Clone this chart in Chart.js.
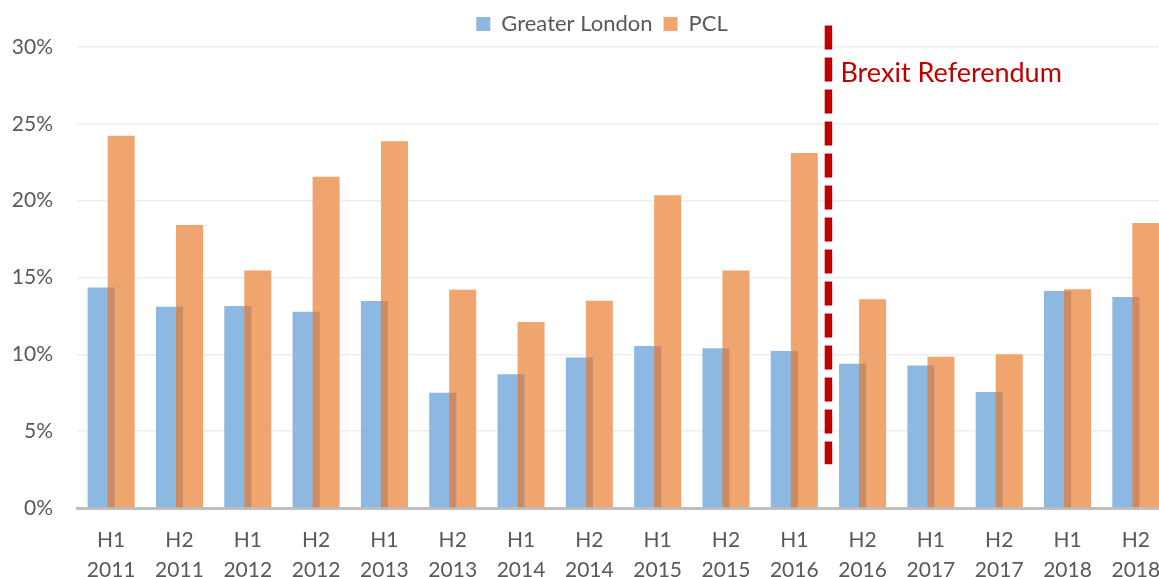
<!DOCTYPE html>
<html>
<head>
<meta charset="utf-8">
<script src="https://cdn.jsdelivr.net/npm/chart.js@4"></script>
<style>
  html, body { margin: 0; padding: 0; background: #fff; overflow: hidden; }
  #wrap { width: 1159px; height: 577px; overflow: hidden; }
</style>
</head>
<body>
<div id="wrap">
  <canvas id="priceChart" width="1204" height="577"></canvas>
</div>
<script>
// Half-year periods
const periods = [
  ["H1", "2011"], ["H2", "2011"], ["H1", "2012"], ["H2", "2012"],
  ["H1", "2013"], ["H2", "2013"], ["H1", "2014"], ["H2", "2014"],
  ["H1", "2015"], ["H2", "2015"], ["H1", "2016"], ["H2", "2016"],
  ["H1", "2017"], ["H2", "2017"], ["H1", "2018"], ["H2", "2018"]
];

// Values in %
const greaterLondon = [14.35, 13.1, 13.15, 12.77, 13.47, 7.5, 8.7, 9.8, 10.54, 10.39, 10.21, 9.39, 9.28, 7.55, 14.12, 13.73];
const pcl = [24.22, 18.41, 15.46, 21.56, 23.86, 14.2, 12.1, 13.49, 20.36, 15.46, 23.1, 13.58, 9.84, 10.0, 14.23, 18.54];

const yTicks = [0, 5, 10, 15, 20, 25, 30];

// Brexit marker (category position and value range it spans)
const brexitAt = 10.5;
const brexitFrom = 2.85;
const brexitTo = 31.4;
const brexitLabelAt = 28.3;

const textColor = '#595959';
const fontFamily = 'Lato, "Open Sans", sans-serif';

// darker strip where the two bars overlap
const overlapPlugin = {
  id: 'overlap',
  afterDatasetsDraw(chart) {
    const ctx = chart.ctx;
    const blue = chart.getDatasetMeta(0).data;
    const orange = chart.getDatasetMeta(1).data;
    ctx.save();
    ctx.fillStyle = '#CE8A61';
    blue.forEach((b, i) => {
      const o = orange[i];
      const left = o.x - o.width / 2;
      const right = b.x + b.width / 2;
      const top = Math.max(b.y, o.y);
      if (right > left) ctx.fillRect(left, top, right - left, b.base - top);
    });
    ctx.restore();
  }
};

// centre the legend over the plot area rather than the whole canvas
const legendShift = {
  id: 'legendShift',
  afterLayout(chart) {
    if (!chart.legend) return;
    chart.legend.left = chart.chartArea.left - 43;
    chart.legend.top -= 2;
  }
};

const brexitPlugin = {
  id: 'brexit',
  afterDraw(chart) {
    const ctx = chart.ctx;
    const x = chart.scales.x.getPixelForValue(brexitAt);
    const y = chart.scales.y;
    ctx.save();
    ctx.strokeStyle = '#C00000';
    ctx.lineWidth = 7.5;
    ctx.setLineDash([24, 8]);
    ctx.beginPath();
    ctx.moveTo(x, y.getPixelForValue(brexitTo));
    ctx.lineTo(x, y.getPixelForValue(brexitFrom));
    ctx.stroke();
    ctx.setLineDash([]);
    ctx.fillStyle = '#C00000';
    ctx.font = '27px ' + fontFamily;
    ctx.textBaseline = 'middle';
    ctx.textAlign = 'left';
    ctx.fillText('Brexit Referendum', x + 12, y.getPixelForValue(brexitLabelAt));
    ctx.restore();
  }
};

const ctx = document.getElementById('priceChart').getContext('2d');

new Chart(ctx, {
  type: 'bar',
  data: {
    labels: periods,
    datasets: [{
      label: 'Greater London',
      data: greaterLondon,
      backgroundColor: '#8DB8E1',
      categoryPercentage: 0.586,
      barPercentage: 1.35
    }, {
      label: 'PCL',
      data: pcl,
      backgroundColor: '#F0A46E',
      categoryPercentage: 0.586,
      barPercentage: 1.35
    }]
  },
  options: {
    responsive: false,
    animation: false,
    layout: {
      padding: { top: 4, right: 34, left: 0, bottom: 0 }
    },
    plugins: {
      legend: {
        position: 'top',
        labels: {
          boxWidth: 14,
          boxHeight: 14,
          padding: 11,
          color: textColor,
          font: { family: fontFamily, size: 22 }
        }
      },
      tooltip: { enabled: false }
    },
    scales: {
      x: {
        grid: { display: false },
        border: { display: true, color: '#BFBFBF', width: 3 },
        ticks: {
          color: textColor,
          padding: 10,
          maxRotation: 0,
          autoSkip: false,
          font: { family: fontFamily, size: 21, lineHeight: 1.4 }
        },
        afterFit(scale) { scale.height = 69; }
      },
      y: {
        min: 0,
        max: 30,
        border: { display: false },
        grid: { color: '#EDEDED', lineWidth: 1.5, drawTicks: false },
        afterBuildTicks(scale) {
          scale.ticks = yTicks.map(v => ({ value: v }));
        },
        ticks: {
          color: textColor,
          padding: 24,
          font: { family: fontFamily, size: 21 },
          callback: v => v + '%'
        },
        afterFit(scale) { scale.width = 77; }
      }
    }
  },
  plugins: [overlapPlugin, legendShift, brexitPlugin]
});
</script>
</body>
</html>
